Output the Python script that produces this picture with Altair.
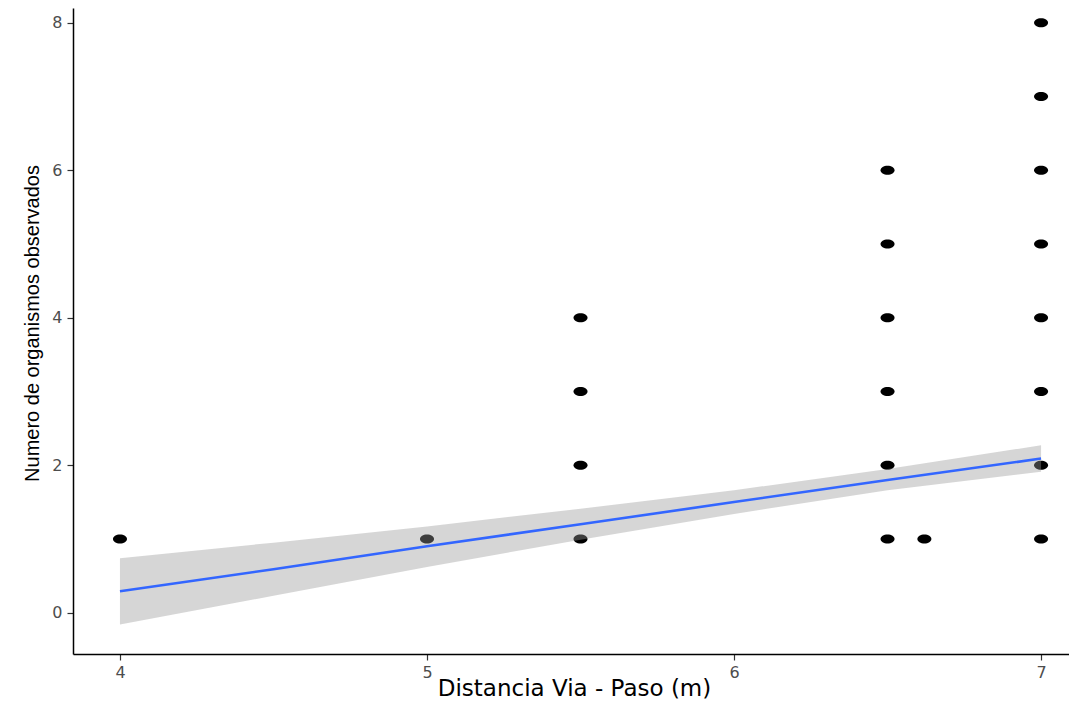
import altair as alt
import pandas as pd

# Observed points
pts_x = [4.0, 5.0,
         5.5, 5.5, 5.5, 5.5,
         6.5, 6.5, 6.5, 6.5, 6.5, 6.5,
         6.62,
         7.0, 7.0, 7.0, 7.0, 7.0, 7.0, 7.0, 7.0]
pts_y = [1, 1,
         1, 2, 3, 4,
         1, 2, 3, 4, 5, 6,
         1,
         1, 2, 3, 4, 5, 6, 7, 8]

# Fitted line and confidence band
fit_x = [4.0, 4.5, 5.0, 5.5, 6.0, 6.5, 7.0]
fit_y = [0.29, 0.59, 0.90, 1.20, 1.50, 1.80, 2.09]
band_lo = [-0.16, 0.23, 0.62, 0.99, 1.34, 1.66, 1.91]
band_hi = [0.74, 0.95, 1.17, 1.41, 1.66, 1.95, 2.27]

x_ticks = [4, 5, 6, 7]
y_ticks = [0, 2, 4, 6, 8]

pts = pd.DataFrame({"x": pts_x, "y": pts_y})
fit = pd.DataFrame({"x": fit_x, "y": fit_y, "lo": band_lo, "hi": band_hi})

W, H = 996, 646

xs = alt.Scale(domain=[3.847, 7.091], nice=False, zero=False)
ys = alt.Scale(domain=[-0.56, 8.2], nice=False, zero=False)

x_axis = alt.Axis(values=x_ticks, format="d", title="Distancia Via - Paso (m)", grid=False,
                  labelFont="DejaVu Sans", labelFontSize=16, labelColor="#4d4d4d", labelPadding=4,
                  titleX=501, titleY=34, titleBaseline="middle", titleAlign="center",
                  titleFont="DejaVu Sans", titleFontSize=23, titleFontWeight="normal", titleColor="black")
y_axis = alt.Axis(values=y_ticks, format="d", title="Numero de organismos observados", grid=False,
                  labelFont="DejaVu Sans", labelFontSize=16, labelColor="#4d4d4d", labelPadding=5,
                  titleX=-41, titleY=315, titleBaseline="middle", titleAlign="center",
                  titleAngle=-90, titleFont="Liberation Sans", titleFontSize=20,
                  titleFontWeight="normal", titleColor="black")

ellipse = "M -1 0 A 1 0.64 0 1 0 1 0 A 1 0.64 0 1 0 -1 0 Z"

points = alt.Chart(pts).mark_point(
    shape=ellipse, filled=True, color="black", opacity=1, size=196
).encode(
    x=alt.X("x:Q", scale=xs, axis=x_axis),
    y=alt.Y("y:Q", scale=ys, axis=y_axis),
)

band = alt.Chart(fit).mark_area(color="#999999", opacity=0.4).encode(
    x=alt.X("x:Q", scale=xs),
    y=alt.Y("lo:Q", scale=ys),
    y2="hi:Q",
)

line = alt.Chart(fit).mark_line(color="#3366FF", strokeWidth=2.6).encode(
    x=alt.X("x:Q", scale=xs),
    y=alt.Y("y:Q", scale=ys),
)

chart = alt.layer(points, band, line).properties(
    width=W, height=H,
    autosize=alt.AutoSizeParams(type="none"),
    padding={"left": 65, "top": 0, "right": 0, "bottom": 54},
).configure_view(stroke=None).configure_axis(
    domainColor="black", domainWidth=1.5,
    tickColor="#333333", tickSize=6, tickWidth=1.2,
)

chart.save("out.html", embed_options={"renderer": "svg", "actions": False})
